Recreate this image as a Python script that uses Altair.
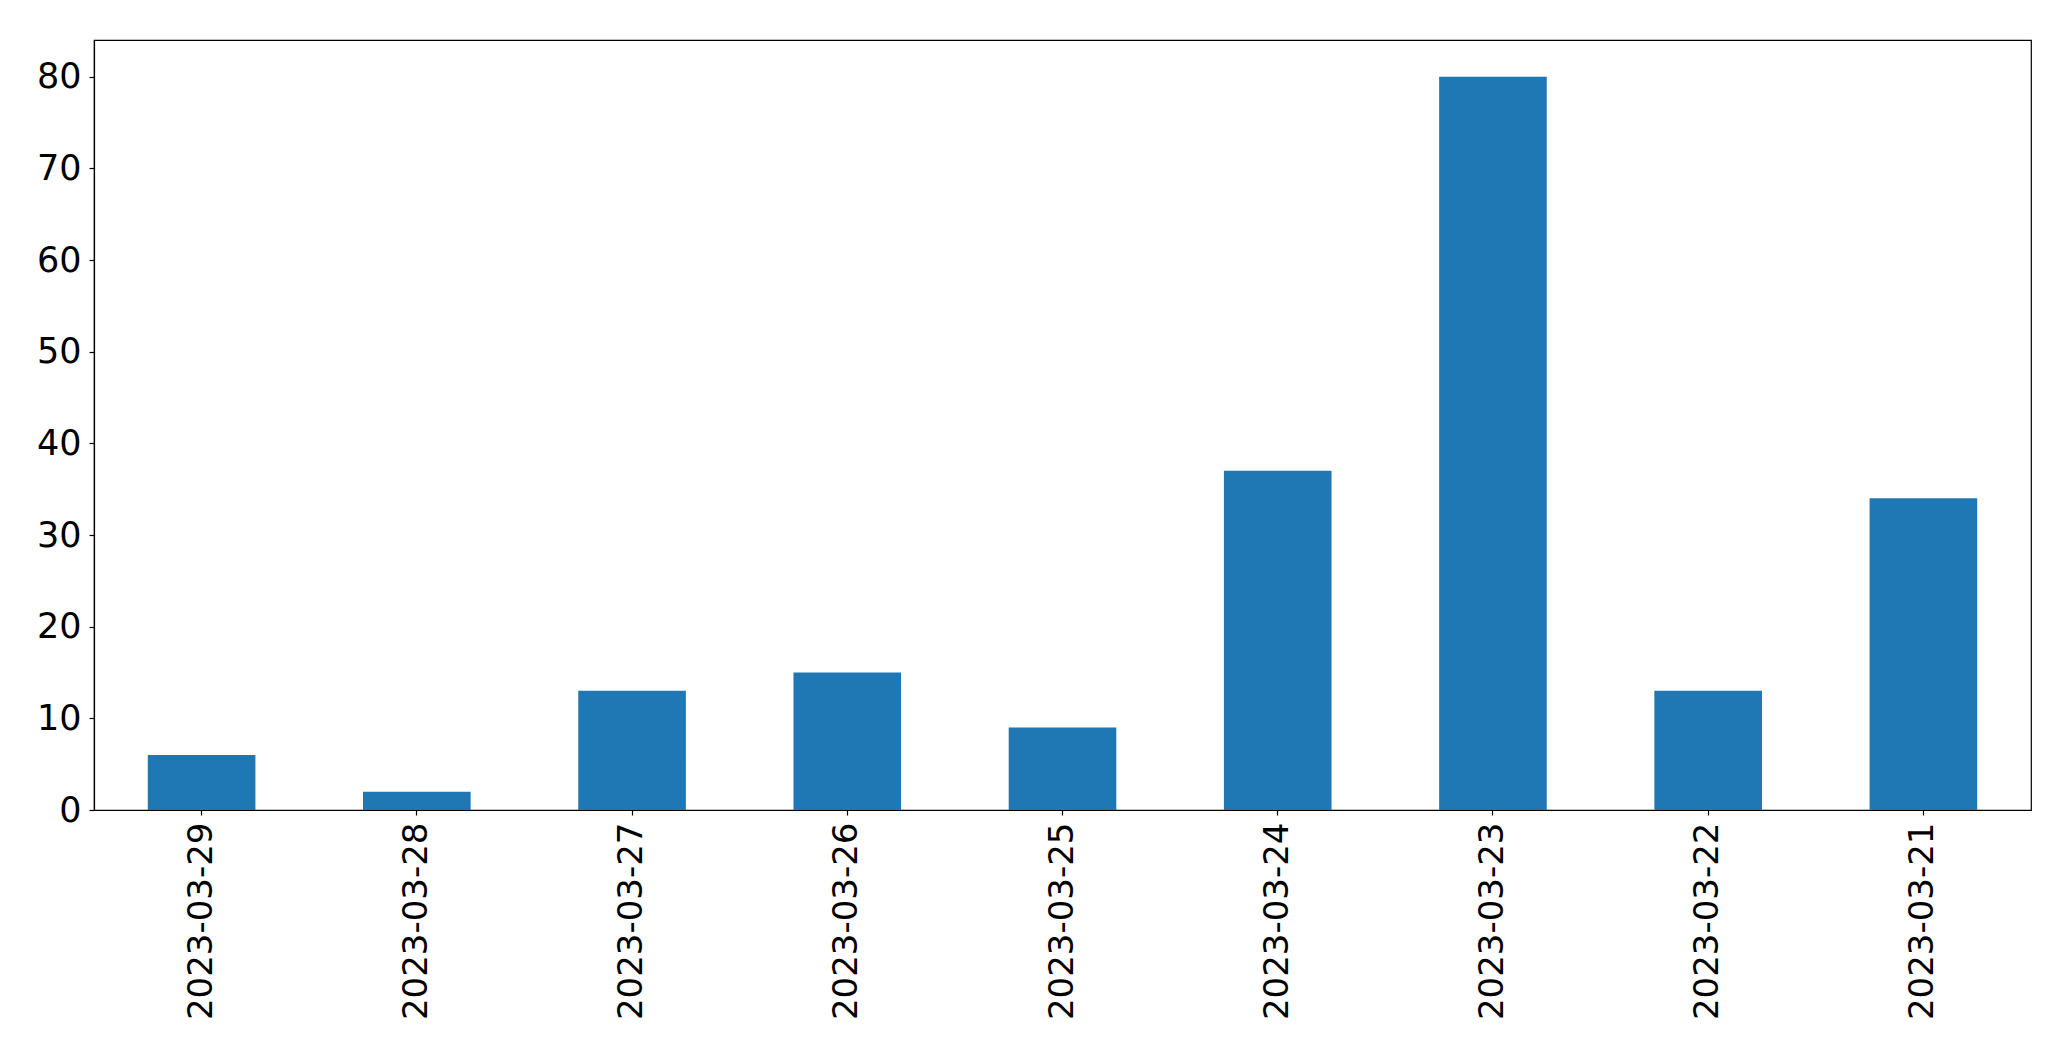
import altair as alt
import pandas as pd

dates = ["2023-03-29", "2023-03-28", "2023-03-27", "2023-03-26", "2023-03-25",
         "2023-03-24", "2023-03-23", "2023-03-22", "2023-03-21"]
counts = [6, 2, 13, 15, 9, 37, 80, 13, 34]
y_ticks = [0, 10, 20, 30, 40, 50, 60, 70, 80]

df = pd.DataFrame({"date": dates, "count": counts})

FONT = "DejaVu Sans"

chart = alt.Chart(df).mark_bar(color="#1f77b4").encode(
    x=alt.X("date:N", sort=None, title=None,
            scale=alt.Scale(paddingInner=0.5, paddingOuter=0.25),
            axis=alt.Axis(labelAngle=-90, labelFontSize=34, labelFont=FONT,
                          labelColor="black", tickColor="black", tickSize=5,
                          tickWidth=1.2, domainColor="black", domainWidth=1.2,
                          labelPadding=7, labelAlign="right", labelBaseline="middle",
                          labelLimit=0)),
    y=alt.Y("count:Q", title=None,
            scale=alt.Scale(domain=[0, 84], nice=False),
            axis=alt.Axis(values=y_ticks, grid=False, labelFontSize=35, labelFont=FONT,
                          labelColor="black", tickColor="black", tickSize=5,
                          tickWidth=1.2, domainColor="black", domainWidth=1.2,
                          labelPadding=8)),
).properties(
    width=1937,
    height=770,
    autosize=alt.AutoSizeParams(type="none"),
    padding={"left": 86, "top": 32, "right": 30, "bottom": 230},
).configure_view(
    stroke="black", strokeWidth=1.2
)

chart.save("out.html", embed_options={"renderer": "svg", "actions": False})
